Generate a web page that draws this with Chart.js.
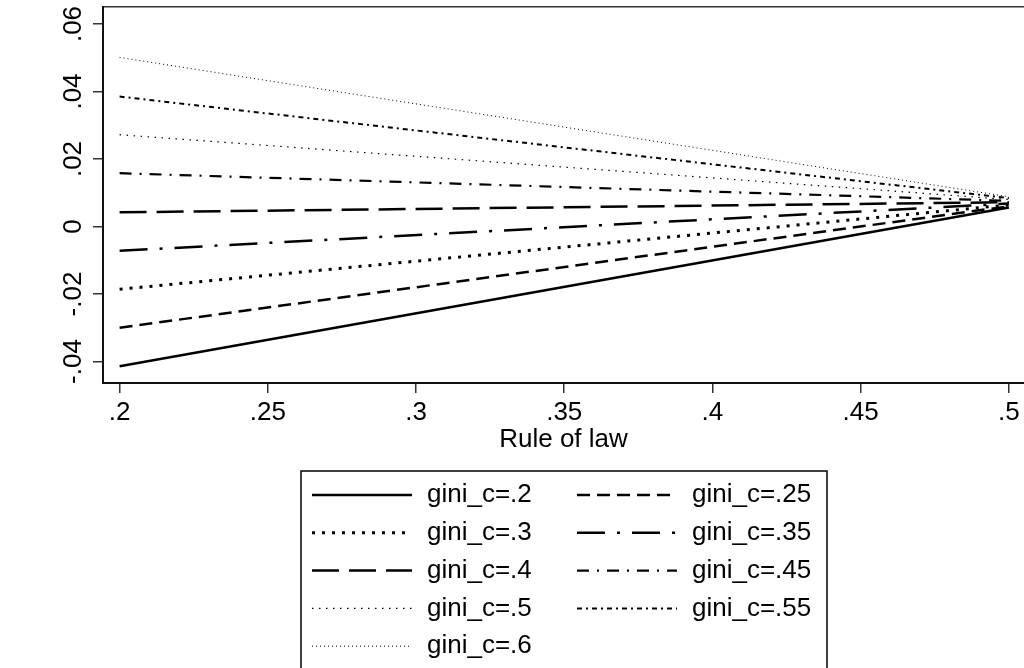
<!DOCTYPE html>
<html lang="en">
  <head>
    <meta charset="UTF-8" />
    <title>Rule of law by gini_c</title>
    <script src="https://cdn.jsdelivr.net/npm/chart.js"></script>
    <style>
      body {
        margin: 0;
        background: #fff;
        overflow: hidden;
      }
      canvas {
        display: block;
      }
    </style>
  </head>
  <body>
    <canvas id="marginsChart" width="1024" height="668"></canvas>

    <script>
      // x positions of the fitted lines (rule of law)
      const ruleOfLaw = [0.2, 0.5];

      const giniLabels = [
        "gini_c=.2", "gini_c=.25", "gini_c=.3", "gini_c=.35", "gini_c=.4",
        "gini_c=.45", "gini_c=.5", "gini_c=.55", "gini_c=.6",
      ];

      // predicted effect at rule of law = .2 and = .5, one entry per gini level
      const atRuleLow = [-0.0414, -0.03, -0.0186, -0.0072, 0.0042, 0.0158, 0.0272, 0.0385, 0.0501];
      const atRuleHigh = [0.0056, 0.006, 0.0064, 0.0068, 0.0072, 0.0076, 0.008, 0.0084, 0.0088];

      const xTicks = [0.2, 0.25, 0.3, 0.35, 0.4, 0.45, 0.5];
      const xTickLabels = [".2", ".25", ".3", ".35", ".4", ".45", ".5"];
      const yTicks = [-0.04, -0.02, 0, 0.02, 0.04, 0.06];
      const yTickLabels = ["-.04", "-.02", "0", ".02", ".04", ".06"];

      // stata-like line patterns
      const dashes = [
        [], [13, 7], [3, 7], [28, 12, 3, 12], [27, 10],
        [12, 8, 2, 8], [1.5, 5.5], [5, 4, 2, 4], [1, 3],
      ];
      const widths = [2.5, 2.5, 3, 2.5, 2.5, 2.2, 1.2, 2, 1];

      const datasets = giniLabels.map((label, i) => ({
        label: label,
        data: ruleOfLaw.map((x, j) => ({ x: x, y: j === 0 ? atRuleLow[i] : atRuleHigh[i] })),
        borderColor: "#000",
        borderWidth: widths[i],
        borderDash: dashes[i],
        borderCapStyle: "butt",
        pointRadius: 0,
        tension: 0,
        fill: false,
      }));

      // legend box drawn under the plot, two columns
      const boxLegend = {
        id: "boxLegend",
        afterDraw(chart) {
          const ctx = chart.ctx;
          ctx.save();
          ctx.strokeStyle = "#000";
          ctx.lineWidth = 1.5;
          ctx.setLineDash([]);
          ctx.strokeRect(301, 471, 526, 230);
          ctx.font = "26px 'Liberation Sans', Arial, sans-serif";
          ctx.fillStyle = "#000";
          ctx.textBaseline = "middle";
          ctx.textAlign = "left";
          chart.data.datasets.forEach((ds, i) => {
            const col = i % 2;
            const row = Math.floor(i / 2);
            const x0 = col ? 577 : 312;
            const y = 495 + row * 37.8;
            ctx.lineWidth = ds.borderWidth;
            ctx.setLineDash(ds.borderDash);
            ctx.beginPath();
            ctx.moveTo(x0, y);
            ctx.lineTo(x0 + 100, y);
            ctx.stroke();
            ctx.setLineDash([]);
            ctx.fillText(ds.label, x0 + 115, y);
          });
          ctx.restore();
        },
      };

      Chart.defaults.font.family = "'Liberation Sans', Arial, sans-serif";
      Chart.defaults.font.size = 26;
      Chart.defaults.color = "#000";

      new Chart(document.getElementById("marginsChart").getContext("2d"), {
        type: "line",
        data: { datasets: datasets },
        plugins: [boxLegend],
        options: {
          responsive: false,
          animation: false,
          layout: { padding: { left: 0, right: 0, top: 0, bottom: 213 } },
          plugins: { legend: { display: false }, tooltip: { enabled: false } },
          scales: {
            x: {
              type: "linear",
              position: "bottom",
              min: 0.1944,
              max: 0.5051,
              afterBuildTicks: (s) => { s.ticks = xTicks.map((v) => ({ value: v })); },
              afterFit: (s) => {
                s.height = 72;
                s.paddingLeft = 0;
                s.paddingRight = 0;
              },
              ticks: {
                autoSkip: false,
                maxRotation: 0,
                padding: 4,
                callback: (v, i) => xTickLabels[i],
              },
              grid: { drawOnChartArea: false, tickLength: 10, color: "#333", lineWidth: 1.5 },
              border: { display: true, color: "#111", width: 2 },
              title: { display: true, text: "Rule of law", padding: { top: 0, bottom: 0 } },
            },
            x2: {
              type: "linear",
              position: "top",
              ticks: { display: false },
              grid: { display: false },
              border: { display: true, color: "#333", width: 1.5 },
              afterFit: (s) => {
                s.height = 7;
                s.paddingLeft = 0;
                s.paddingRight = 0;
              },
            },
            y: {
              type: "linear",
              min: -0.04637,
              max: 0.06504,
              afterBuildTicks: (s) => { s.ticks = yTicks.map((v) => ({ value: v })); },
              afterFit: (s) => {
                s.width = 103;
                s.paddingTop = 0;
                s.paddingBottom = 0;
              },
              ticks: {
                autoSkip: false,
                minRotation: 90,
                maxRotation: 90,
                crossAlign: "center",
                padding: -3,
                callback: (v, i) => yTickLabels[i],
              },
              grid: { drawOnChartArea: false, tickLength: 10, color: "#333", lineWidth: 1.5 },
              border: { display: true, color: "#111", width: 2 },
            },
          },
        },
      });
    </script>
  </body>
</html>
